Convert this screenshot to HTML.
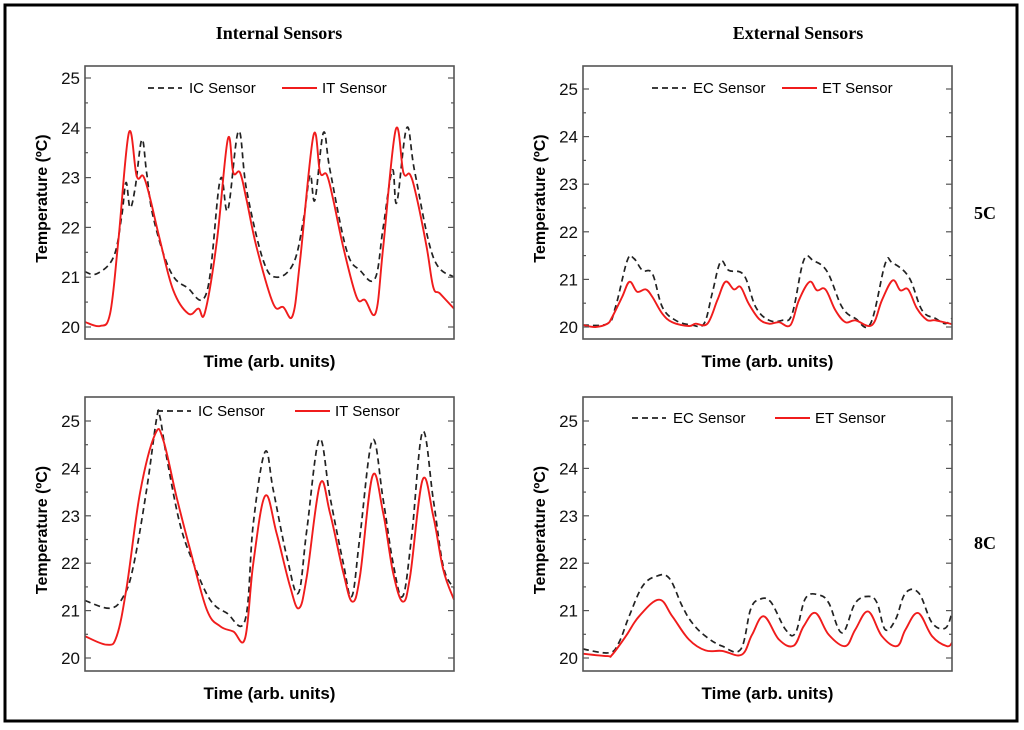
<!DOCTYPE html>
<html><head><meta charset="utf-8"><style>
html,body{margin:0;padding:0;background:#fff;}
svg{display:block;}
</style></head><body>
<svg id="fig" width="1024" height="730" xmlns="http://www.w3.org/2000/svg">
<rect x="5" y="5" width="1012" height="716" fill="none" stroke="#000" stroke-width="3"/>
<text x="279" y="39" text-anchor="middle" font-family="Liberation Serif, serif" font-weight="bold" font-size="18">Internal Sensors</text>
<text x="798" y="39" text-anchor="middle" font-family="Liberation Serif, serif" font-weight="bold" font-size="18">External Sensors</text>
<text x="985" y="219" text-anchor="middle" font-family="Liberation Serif, serif" font-weight="bold" font-size="18">5C</text>
<text x="985" y="549" text-anchor="middle" font-family="Liberation Serif, serif" font-weight="bold" font-size="18">8C</text>
</svg>
<script>
// ---- data (time in arb. units 0..100, temperature in °C) ----
const yTicks = [20, 21, 22, 23, 24, 25];
const tlTimeIT = [0,4.1,6.8,9.0,11.9,14.0,15.8,17.6,20.3,23.9,28.0,30.7,32.5,35.7,38.7,40.2,42.0,43.8,46.5,51.0,53.7,56.3,58.3,61.9,63.7,65.5,67.3,70.0,73.6,75.9,78.8,80.8,84.2,86.3,88.1,89.9,92.6,94.4,96.2,100];
const tlIT = [20.1,20.02,20.27,21.7,23.9,23.03,23.03,22.6,21.75,20.74,20.27,20.37,20.29,21.7,23.77,23.1,23.1,22.55,21.6,20.47,20.4,20.23,21.34,23.84,23.1,23.06,22.55,21.6,20.6,20.54,20.29,21.6,23.96,23.1,23.06,22.6,21.6,20.8,20.67,20.37];
const tlTimeIC = [0,3.2,7.7,9.9,11.1,12.2,13.6,15.4,16.7,18.5,23.0,27.6,33.0,36.6,38.7,41.6,43.8,48.3,51.9,56.5,59.2,61.0,62.3,64.6,66.4,70.9,74.5,78.6,80.8,83.3,84.5,87.2,89.4,94.4,100];
const tlIC = [21.11,21.07,21.4,22.2,22.9,22.4,22.8,23.76,23.1,22.2,21.14,20.8,20.7,22.95,22.35,23.93,22.75,21.34,21.0,21.28,22.15,23.05,22.55,23.9,23.15,21.54,21.14,20.97,22.0,23.15,22.5,24.0,23.1,21.4,21.0];

const blTimeIT = [0,5.9,8.6,11.3,14.9,19.0,21.2,24.8,28.5,33.0,36.6,40.2,43.4,45.6,48.8,51.9,55.6,58.0,60.1,63.7,66.4,70.0,72.4,74.5,77.9,80.8,83.5,86.1,88.1,91.5,94.4,97.1,100];
const blIT = [20.46,20.28,20.46,21.5,23.48,24.72,24.6,23.4,22.28,21.02,20.67,20.56,20.42,22.0,23.42,22.64,21.5,21.05,21.72,23.67,23.06,21.8,21.19,21.72,23.84,23.06,21.8,21.19,21.72,23.76,22.99,21.86,21.23];
const blTimeIC = [0,6.8,10.4,13.1,16.7,19.4,20.3,22.1,25.7,29.4,33.9,38.4,43.4,45.6,48.8,51.0,54.7,57.8,60.1,63.5,66.4,70.0,72.3,74.5,77.9,80.8,83.5,86.1,88.5,91.5,94.4,97.1,100];
const blIC = [21.21,21.05,21.3,21.93,23.55,25.05,25.09,24.25,22.84,22.0,21.23,20.95,20.8,22.84,24.35,23.55,22.14,21.37,22.7,24.61,23.4,22.0,21.3,22.56,24.6,23.34,22.0,21.3,22.56,24.77,23.34,21.93,21.47];

const trTimeET = [0,3.4,6.6,7.9,10.6,12.6,14.7,17.0,18.8,21.5,24.2,28.7,30.5,33.7,36.4,38.6,40.9,42.7,44.9,47.7,50.4,53.1,56.2,58.5,61.4,63.4,65.7,68.4,71.1,73.8,78.3,81.0,83.9,86.0,88.1,90.5,93.2,95.5,100];
const trET = [20.04,20.0,20.07,20.21,20.63,20.95,20.74,20.79,20.63,20.28,20.1,20.02,20.07,20.07,20.56,20.95,20.79,20.84,20.49,20.17,20.07,20.1,20.04,20.56,20.95,20.77,20.79,20.35,20.1,20.14,20.04,20.56,20.98,20.77,20.79,20.39,20.15,20.14,20.06];
const trTimeEC = [0,6.6,8.8,12.0,13.8,16.1,18.8,21.5,25.1,29.6,32.8,35.0,37.3,39.5,43.6,46.8,50.4,54.0,56.7,59.8,62.5,66.2,70.2,73.8,77.9,81.9,83.8,88.3,91.9,95.5,98.2,100];
const trEC = [20.04,20.07,20.42,21.4,21.44,21.19,21.12,20.42,20.14,20.04,20.07,20.7,21.37,21.19,21.09,20.42,20.14,20.14,20.28,21.4,21.39,21.16,20.42,20.18,20.07,21.33,21.35,21.05,20.35,20.18,20.07,20.18];

const brTimeET = [0,6.6,7.9,11.6,15.2,20.6,24.2,28.7,33.2,37.7,43.0,45.8,49.0,53.1,57.1,59.8,63.0,66.6,71.1,73.8,77.3,81.0,85.1,87.4,90.8,94.6,98.6,100];
const brET = [20.09,20.04,20.07,20.46,20.88,21.23,20.88,20.39,20.16,20.15,20.07,20.49,20.88,20.39,20.26,20.67,20.95,20.49,20.25,20.6,20.98,20.46,20.25,20.6,20.95,20.46,20.25,20.32];
const brTimeEC = [0,7.0,9.7,12.5,16.1,19.7,23.3,26.9,29.6,33.2,37.7,42.7,45.4,47.7,50.8,54.9,57.6,60.3,63.9,66.6,70.2,73.8,77.4,79.7,81.9,84.7,87.4,91.0,94.6,98.2,100];
const brEC = [20.19,20.11,20.32,20.88,21.51,21.72,21.69,21.09,20.74,20.46,20.25,20.18,21.02,21.23,21.19,20.6,20.53,21.26,21.33,21.16,20.53,21.16,21.3,21.16,20.6,20.81,21.37,21.37,20.74,20.63,20.95];

const NS = 'http://www.w3.org/2000/svg';
const svg = document.getElementById('fig');
function mk(tag, attrs, parent) {
  const e = document.createElementNS(NS, tag);
  for (const k in attrs) e.setAttribute(k, attrs[k]);
  (parent || svg).appendChild(e);
  return e;
}
function smoothPath(pts) {
  const k = 0.18;
  let d = 'M' + pts[0][0].toFixed(1) + ',' + pts[0][1].toFixed(1);
  for (let i = 0; i < pts.length - 1; i++) {
    const p0 = pts[Math.max(0, i - 1)], p1 = pts[i], p2 = pts[i + 1], p3 = pts[Math.min(pts.length - 1, i + 2)];
    const c1x = p1[0] + (p2[0] - p0[0]) * k, c1y = p1[1] + (p2[1] - p0[1]) * k;
    const c2x = p2[0] - (p3[0] - p1[0]) * k, c2y = p2[1] - (p3[1] - p1[1]) * k;
    d += 'C' + c1x.toFixed(1) + ',' + c1y.toFixed(1) + ' ' + c2x.toFixed(1) + ',' + c2y.toFixed(1) + ' ' + p2[0].toFixed(1) + ',' + p2[1].toFixed(1);
  }
  return d;
}

function panel(p) {
  const g = mk('g', {});
  
  
  const xs = t => p.x0 + (t / 100) * (p.x1 - p.x0);
  const ys = v => p.y20 + (v - 20) * (p.y25 - p.y20) / 5;
  function line(times, vals, dashed, name) {
    const pts = times.map((t, i) => [xs(t), ys(vals[i])]);
    const pth = mk('path', {d: smoothPath(pts), fill: 'none', stroke: dashed ? '#222' : '#f01c1c', 'stroke-width': dashed ? 1.7 : 1.9, 'stroke-dasharray': dashed ? '6,4' : 'none', 'stroke-linejoin': 'round'}, g);
    
    
  }
  line(p.tC, p.vC, true, p.cName + '-line');
  line(p.tT, p.vT, false, p.tName + '-line');
  const fr = mk('rect', {x: p.x0, y: p.yTop, width: p.x1 - p.x0, height: p.yBot - p.yTop, fill: 'none', stroke: '#555', 'stroke-width': 1.6}, g);
  
  
  for (let v = 20; v <= 25; v += 0.5) {
    const y = ys(v), len = (v % 1 === 0) ? 6 : 3;
    mk('line', {x1: p.x0, x2: p.x0 + len, y1: y, y2: y, stroke: '#555', 'stroke-width': 1.2}, g);
    mk('line', {x1: p.x1, x2: p.x1 - len, y1: y, y2: y, stroke: '#555', 'stroke-width': 1.2}, g);
  }
  yTicks.forEach(v => {
    const t = mk('text', {x: p.x0 - 5, y: ys(v) + 6, 'text-anchor': 'end', 'font-family': 'Liberation Sans, sans-serif', 'font-size': 17, fill: '#111'}, g);
    t.textContent = v;
    
    
  });
  const yl = mk('text', {x: 0, y: 0, transform: 'translate(' + (p.x0 - 38) + ',' + ((p.yTop + p.yBot) / 2 - 4) + ') rotate(-90)', 'text-anchor': 'middle', 'font-family': 'Liberation Sans, sans-serif', 'font-size': 16, 'font-weight': 'bold'}, g);
  yl.textContent = 'Temperature (\u00BAC)';
  
  
  const xl = mk('text', {x: (p.x0 + p.x1) / 2, y: p.yBot + 28, 'text-anchor': 'middle', 'font-family': 'Liberation Sans, sans-serif', 'font-size': 17, 'font-weight': 'bold'}, g);
  xl.textContent = 'Time (arb. units)';
  
  
  const ly = p.legY;
  const l1 = mk('line', {x1: p.legX, x2: p.legX + 34, y1: ly, y2: ly, stroke: '#222', 'stroke-width': 1.7, 'stroke-dasharray': '6,4'}, g);
  
  
  const t1 = mk('text', {x: p.legX + 41, y: ly + 5, 'font-family': 'Liberation Sans, sans-serif', 'font-size': 15}, g);
  t1.textContent = p.cLabel;
  
  
  const l2 = mk('line', {x1: p.leg2X, x2: p.leg2X + 35, y1: ly, y2: ly, stroke: '#f01c1c', 'stroke-width': 1.9}, g);
  
  
  const t2 = mk('text', {x: p.leg2X + 40, y: ly + 5, 'font-family': 'Liberation Sans, sans-serif', 'font-size': 15}, g);
  t2.textContent = p.tLabel;
  
  
}

panel({name:'internal-5c-chart', x0:85, x1:454, yTop:66, yBot:339, y20:327, y25:78, tC:tlTimeIC, vC:tlIC, tT:tlTimeIT, vT:tlIT, cName:'ic-sensor', tName:'it-sensor', cLabel:'IC Sensor', tLabel:'IT Sensor', legX:148, leg2X:282, legY:88});
panel({name:'internal-8c-chart', x0:85, x1:454, yTop:397, yBot:671, y20:658, y25:421, tC:blTimeIC, vC:blIC, tT:blTimeIT, vT:blIT, cName:'ic-sensor', tName:'it-sensor', cLabel:'IC Sensor', tLabel:'IT Sensor', legX:157, leg2X:295, legY:411});
panel({name:'external-5c-chart', x0:583, x1:952, yTop:66, yBot:339, y20:327, y25:89, tC:trTimeEC, vC:trEC, tT:trTimeET, vT:trET, cName:'ec-sensor', tName:'et-sensor', cLabel:'EC Sensor', tLabel:'ET Sensor', legX:652, leg2X:782, legY:88});
panel({name:'external-8c-chart', x0:583, x1:952, yTop:397, yBot:671, y20:658, y25:421, tC:brTimeEC, vC:brEC, tT:brTimeET, vT:brET, cName:'ec-sensor', tName:'et-sensor', cLabel:'EC Sensor', tLabel:'ET Sensor', legX:632, leg2X:775, legY:418});
</script>
</body></html>
